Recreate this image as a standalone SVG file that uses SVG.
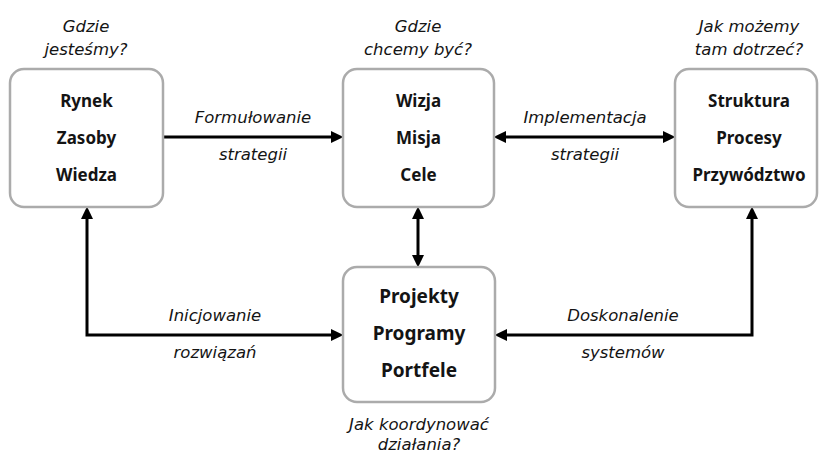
<svg xmlns="http://www.w3.org/2000/svg" width="820" height="455" viewBox="0 0 820 455">
<style>
.box{fill:#ffffff;stroke:#ababab;stroke-width:2.5}
.b{font-family:"Noto Sans","DejaVu Sans",sans-serif;font-weight:bold;font-size:17px;fill:#141414;text-anchor:middle}
.bb{font-size:19px}
.i{font-family:"DejaVu Sans","Noto Sans",sans-serif;font-style:italic;font-size:16.5px;fill:#141414;text-anchor:middle}
.c{fill:none;stroke:#000;stroke-width:3}
</style>
<defs>
<marker id="ah" markerUnits="userSpaceOnUse" markerWidth="13" markerHeight="12" refX="0" refY="6" orient="auto-start-reverse" viewBox="0 0 13 12">
<polygon points="0,0 12.5,6 0,12" fill="#000"/>
</marker>
</defs>
<rect width="820" height="455" fill="#ffffff"/>
<g id="connectors">
<path class="c" d="M163,137 H331" marker-end="url(#ah)"/>
<path class="c" d="M506,137 H663" marker-start="url(#ah)" marker-end="url(#ah)"/>
<path class="c" d="M418,219 V255" marker-start="url(#ah)" marker-end="url(#ah)"/>
<path class="c" d="M87,219 V335 H331" marker-start="url(#ah)" marker-end="url(#ah)"/>
<path class="c" d="M752,219 V335 H507" marker-start="url(#ah)" marker-end="url(#ah)"/>
<text class="i" x="253" y="123">Formułowanie</text>
<text class="i" x="253" y="160">strategii</text>
<text class="i" x="585" y="123">Implementacja</text>
<text class="i" x="585" y="160">strategii</text>
<text class="i" x="215" y="321">Inicjowanie</text>
<text class="i" x="215" y="358">rozwiązań</text>
<text class="i" x="623" y="321">Doskonalenie</text>
<text class="i" x="623" y="358">systemów</text>
</g>
<g id="node-current">
<text class="i" x="86" y="32">Gdzie</text>
<text class="i" x="86" y="55">jesteśmy?</text>
<rect class="box" x="10" y="69" width="153" height="138" rx="14"/>
<text class="b" x="86.5" y="107">Rynek</text>
<text class="b" x="86.5" y="144">Zasoby</text>
<text class="b" x="86.5" y="181">Wiedza</text>
</g>
<g id="node-target">
<text class="i" x="418" y="32">Gdzie</text>
<text class="i" x="418" y="55">chcemy być?</text>
<rect class="box" x="343" y="69" width="151" height="138" rx="14"/>
<text class="b" x="418.5" y="107">Wizja</text>
<text class="b" x="418.5" y="144">Misja</text>
<text class="b" x="418.5" y="181">Cele</text>
</g>
<g id="node-means">
<text class="i" x="749" y="32">Jak możemy</text>
<text class="i" x="749" y="55">tam dotrzeć?</text>
<rect class="box" x="675" y="69" width="142" height="138" rx="14"/>
<text class="b" x="749" y="107">Struktura</text>
<text class="b" x="749" y="144">Procesy</text>
<text class="b" x="749" y="181">Przywództwo</text>
</g>
<g id="node-coordination">
<rect class="box" x="343" y="267" width="152" height="135" rx="14"/>
<text class="b bb" x="419" y="303">Projekty</text>
<text class="b bb" x="419" y="340">Programy</text>
<text class="b bb" x="419" y="377">Portfele</text>
<text class="i" x="419" y="430">Jak koordynować</text>
<text class="i" x="419" y="450">działania?</text>
</g>
</svg>
